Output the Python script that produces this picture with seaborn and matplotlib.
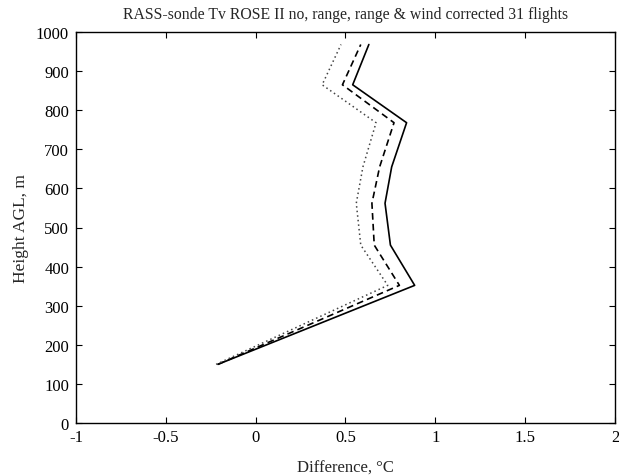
import matplotlib
matplotlib.use("Agg")
import matplotlib.pyplot as plt
import seaborn as sns
import pandas as pd

heights = [150, 352, 455, 562, 655, 768, 865, 968]
no_corr = [-0.21, 0.885, 0.75, 0.72, 0.757, 0.84, 0.54, 0.63]
range_corr = [-0.21, 0.80, 0.66, 0.647, 0.69, 0.77, 0.483, 0.585]
range_wind_corr = [-0.22, 0.735, 0.585, 0.56, 0.597, 0.67, 0.37, 0.475]

x_ticks = [-1, -0.5, 0, 0.5, 1, 1.5, 2]
x_tick_labels = ["-1", "-0.5", "0", "0.5", "1", "1.5", "2"]
y_ticks = [0, 100, 200, 300, 400, 500, 600, 700, 800, 900, 1000]

sns.set_style("ticks")
plt.rcParams['font.family'] = ['Liberation Serif', 'DejaVu Serif']
plt.rcParams['xtick.direction'] = 'in'
plt.rcParams['ytick.direction'] = 'in'

fig = plt.figure(figsize=(6.19, 4.77), dpi=100)
ax = fig.add_axes([76/619, 1-424/477, (615-76)/619, (424-33)/477])

series = [
    (no_corr, '-', 'black', 1.2),
    (range_corr, (0, (4, 2.5)), 'black', 1.2),
    (range_wind_corr, (0, (1, 2)), '#444444', 1.1),
]
for vals, ls, col, lw in series:
    df = pd.DataFrame({"diff": vals, "height": heights})
    sns.lineplot(data=df, x="diff", y="height", sort=False, estimator=None,
                 color=col, linestyle=ls, linewidth=lw, ax=ax)

ax.set_xlim(-1, 2)
ax.set_ylim(0, 1000)
ax.set_xticks(x_ticks)
ax.set_xticklabels(x_tick_labels)
ax.set_yticks(y_ticks)
ax.tick_params(axis='both', which='both', direction='in', top=True, right=True,
               length=4, width=0.8, labelsize=12, colors='black')
ax.tick_params(axis='x', pad=4)
ax.tick_params(axis='y', pad=5)
for s in ax.spines.values():
    s.set_visible(True)
    s.set_linewidth(1.0)
    s.set_color('black')

ax.set_title("RASS-sonde Tv ROSE II no, range, range & wind corrected 31 flights",
             fontsize=11.3, pad=10)
ax.set_xlabel("Difference, °C", fontsize=12, labelpad=11)
ax.set_ylabel("Height AGL, m", fontsize=12.5, labelpad=5)

fig.savefig("out.png", dpi=100)
